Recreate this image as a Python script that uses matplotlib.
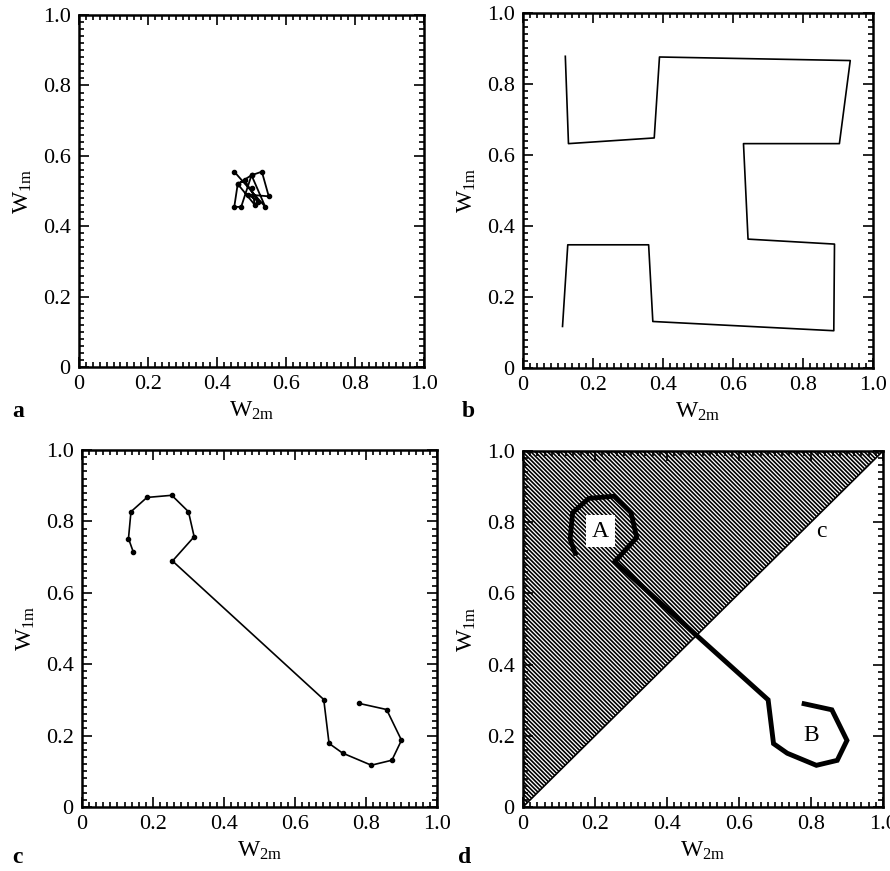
import numpy as np
import matplotlib
matplotlib.use("Agg")
import matplotlib.pyplot as plt
from matplotlib.patches import Polygon
from matplotlib.ticker import MultipleLocator, FixedFormatter, FixedLocator

plt.rcParams["font.family"] = ["Liberation Serif", "DejaVu Serif"]
plt.rcParams["mathtext.fontset"] = "custom"
plt.rcParams["mathtext.rm"] = "Liberation Serif"
plt.rcParams["mathtext.it"] = "Liberation Serif"
plt.rcParams["hatch.linewidth"] = 1.2

# Panel a: small random walk near the centre
a_w2 = [0.45, 0.54, 0.50, 0.46, 0.45, 0.47, 0.50, 0.53, 0.55, 0.49, 0.52, 0.48, 0.46, 0.51, 0.50]
a_w1 = [0.555, 0.455, 0.545, 0.52, 0.455, 0.455, 0.545, 0.555, 0.485, 0.49, 0.47, 0.53, 0.52, 0.46, 0.51]

# Panel b: meandering path
b_w2 = [0.121, 0.130, 0.375, 0.390, 0.935, 0.904, 0.630, 0.643, 0.890, 0.888, 0.371, 0.359, 0.128, 0.113]
b_w1 = [0.878, 0.632, 0.648, 0.876, 0.866, 0.632, 0.632, 0.363, 0.349, 0.105, 0.131, 0.347, 0.347, 0.117]

# Panels c and d: two loops joined by a straight jump
c_w2 = [0.145, 0.131, 0.138, 0.183, 0.253, 0.300, 0.316, 0.255,
        0.681, 0.696, 0.734, 0.815, 0.873, 0.900, 0.858, 0.781]
c_w1 = [0.713, 0.752, 0.827, 0.867, 0.873, 0.827, 0.757, 0.689,
        0.301, 0.178, 0.151, 0.117, 0.131, 0.187, 0.273, 0.290]

tick_vals = [0, 0.2, 0.4, 0.6, 0.8, 1.0]
tick_labels = ["0", "0.2", "0.4", "0.6", "0.8", "1.0"]

fig = plt.figure(figsize=(8.9, 8.71), dpi=100)


def style_axes(ax):
    ax.set_xlim(0, 1)
    ax.set_ylim(0, 1)
    for axis in (ax.xaxis, ax.yaxis):
        axis.set_major_locator(FixedLocator(tick_vals))
        axis.set_major_formatter(FixedFormatter(tick_labels))
        axis.set_minor_locator(MultipleLocator(0.02))
    ax.tick_params(which="both", direction="in", top=True, right=True, labelsize=16, width=1.2)
    ax.tick_params(which="major", length=7, pad=6)
    ax.tick_params(which="minor", length=3.5)
    for sp in ax.spines.values():
        sp.set_linewidth(1.8)
    ax.set_xlabel(r"W$_{\mathrm{2m}}$", fontsize=17, labelpad=4)
    ax.set_ylabel(r"W$_{\mathrm{1m}}$", fontsize=17, labelpad=6)


ax_a = fig.add_axes([0.0888, 0.5786, 0.3876, 0.4041])
ax_b = fig.add_axes([0.5876, 0.5775, 0.3933, 0.4076])
ax_c = fig.add_axes([0.0921, 0.0735, 0.3989, 0.4099])
ax_d = fig.add_axes([0.5876, 0.0735, 0.4045, 0.4087])

for ax in (ax_a, ax_b, ax_c, ax_d):
    style_axes(ax)

ax_a.plot(a_w2, a_w1, color="black", lw=1.3, marker="o", ms=3)
ax_b.plot(b_w2, b_w1, color="black", lw=1.2)
ax_c.plot(c_w2, c_w1, color="black", lw=1.2, marker="o", ms=3)

# Panel d: hatched region above the diagonal
tri = Polygon([[0, 0], [1, 1], [0, 1]], closed=True, facecolor="white",
              edgecolor="black", hatch="\\" * 8, lw=1.2, zorder=1)
ax_d.add_patch(tri)
ax_d.plot(c_w2, c_w1, color="black", lw=3.5, zorder=3, solid_joinstyle="miter")
ax_d.text(0.215, 0.775, "A", fontsize=17, ha="center", va="center", zorder=4,
          bbox=dict(facecolor="white", edgecolor="none", pad=4))
ax_d.text(0.80, 0.20, "B", fontsize=17, ha="center", va="center", zorder=4)
ax_d.text(0.83, 0.775, "c", fontsize=17, ha="center", va="center", zorder=4)

for lab, x, y in [("a", 0.014, 0.527), ("b", 0.519, 0.527), ("c", 0.014, 0.015), ("d", 0.515, 0.015)]:
    fig.text(x, y, lab, fontsize=17, fontweight="bold", ha="left", va="center")

fig.savefig("out.png", dpi=100)
